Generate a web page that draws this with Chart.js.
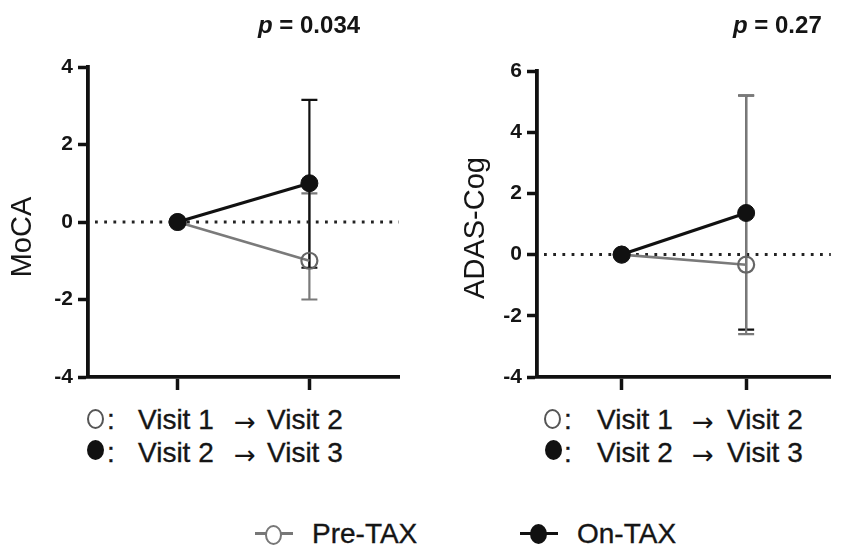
<!DOCTYPE html>
<html><head><meta charset="utf-8">
<script src="https://cdn.jsdelivr.net/npm/chart.js@4.4.1/dist/chart.umd.min.js"></script>
<style>
body{margin:0;background:#fff;width:841px;height:546px;overflow:hidden;position:relative;font-family:"Liberation Sans",Arial,sans-serif;color:#151515}
.t{position:absolute;white-space:nowrap;line-height:1}
.leg{font-size:28px;-webkit-text-stroke:0.35px #151515}
.arrow{font-size:26px;font-family:"DejaVu Sans","Liberation Sans",sans-serif}
.oc{position:absolute;width:13px;height:16px;border:2px solid #555;border-radius:50%;background:#fff}
.fc{position:absolute;width:17px;height:20px;border-radius:50%;background:#111}
.p{font-size:24px;font-weight:bold}
canvas{position:absolute}
</style></head><body>
<canvas id="moca" width="410" height="400" style="left:0;top:0"></canvas>
<canvas id="adas" width="421" height="400" style="left:420px;top:0"></canvas>

<div class="t p" style="left:258px;top:13px"><i>p</i> = 0.034</div>
<div class="t p" style="left:733px;top:13px"><i>p</i> = 0.27</div>

<!-- left legend -->
<div class="oc" style="left:87px;top:409px"></div>
<div class="t leg" style="left:107px;top:406px">:</div>
<div class="t leg" style="left:138px;top:406px">Visit 1</div>
<div class="t arrow" style="left:234px;top:409px">→</div>
<div class="t leg" style="left:267px;top:406px">Visit 2</div>
<div class="fc" style="left:87px;top:440px"></div>
<div class="t leg" style="left:107px;top:439px">:</div>
<div class="t leg" style="left:138px;top:439px">Visit 2</div>
<div class="t arrow" style="left:234px;top:442px">→</div>
<div class="t leg" style="left:267px;top:439px">Visit 3</div>
<!-- right legend -->
<div class="oc" style="left:544px;top:409px"></div>
<div class="t leg" style="left:564px;top:406px">:</div>
<div class="t leg" style="left:597px;top:406px">Visit 1</div>
<div class="t arrow" style="left:692px;top:409px">→</div>
<div class="t leg" style="left:727px;top:406px">Visit 2</div>
<div class="fc" style="left:545px;top:440px"></div>
<div class="t leg" style="left:564px;top:439px">:</div>
<div class="t leg" style="left:597px;top:439px">Visit 2</div>
<div class="t arrow" style="left:692px;top:442px">→</div>
<div class="t leg" style="left:727px;top:439px">Visit 3</div>

<!-- bottom legend -->
<div style="position:absolute;left:255px;top:532px;width:38px;height:3px;background:#777"></div>
<div class="oc" style="left:265px;top:525px;border-color:#777"></div>
<div class="t leg" style="left:312px;top:520px">Pre-TAX</div>
<div style="position:absolute;left:520px;top:532px;width:38px;height:3px;background:#111"></div>
<div class="fc" style="left:530px;top:524px"></div>
<div class="t leg" style="left:577px;top:520px">On-TAX</div>

<script>
// ---- data ----
const timepoints = [0, 1];               // start of interval, change at end of interval
const seriesNames = ['On-TAX', 'Pre-TAX'];

const mocaOn     = [0, 1.0];
const mocaOnLo   = [null, -1.18];
const mocaOnHi   = [null, 3.15];
const mocaPre    = [0, -1.0];
const mocaPreLo  = [null, -2.0];
const mocaPreHi  = [null, 0.74];

const adasOn     = [0, 1.36];
const adasOnLo   = [null, -2.45];
const adasOnHi   = [null, 5.2];
const adasPre    = [0, -0.33];
const adasPreLo  = [null, -2.6];
const adasPreHi  = [null, 5.2];

const mocaTicks = [-4, -2, 0, 2, 4];
const adasTicks = [-4, -2, 0, 2, 4, 6];
const referenceValue = 0;

const FONT = '"Liberation Sans", Arial, sans-serif';
const BLACK = '#111111', GRAY = '#7a7a7a';

function pts(vals, lo, hi){
  return timepoints.map((x, i) => ({x, y: vals[i], lo: lo[i], hi: hi[i]}));
}

const refLine = {
  id: 'refLine',
  beforeDatasetsDraw(chart){
    const {ctx, chartArea} = chart;
    const y = chart.scales.y.getPixelForValue(referenceValue);
    ctx.save();
    ctx.strokeStyle = '#222'; ctx.lineWidth = 3;
    ctx.setLineDash([2.8, 6.4]);
    ctx.beginPath(); ctx.moveTo(chartArea.left + 7, y); ctx.lineTo(chartArea.right, y); ctx.stroke();
    ctx.restore();
  }
};

const errorBars = {
  id: 'errorBars',
  beforeDatasetsDraw(chart, args, opts){
    const {ctx} = chart;
    const xs = chart.scales.x, ys = chart.scales.y;
    opts.order.forEach(i => {
      const ds = chart.data.datasets[i];
      ds.data.forEach(p => {
        if (p.lo == null) return;
        const px = xs.getPixelForValue(p.x);
        const t = ys.getPixelForValue(p.hi), b = ys.getPixelForValue(p.lo);
        ctx.save();
        ctx.strokeStyle = ds.borderColor; ctx.lineWidth = 2.2;
        ctx.beginPath();
        ctx.moveTo(px, t); ctx.lineTo(px, b);
        ctx.moveTo(px - 8, t); ctx.lineTo(px + 8, t);
        ctx.moveTo(px - 8, b); ctx.lineTo(px + 8, b);
        ctx.stroke();
        ctx.restore();
      });
    });
  }
};

const yTitle = {
  id: 'yTitle',
  afterDraw(chart, args, opts){
    const {ctx} = chart;
    ctx.save();
    ctx.translate(opts.x, opts.y);
    ctx.rotate(-Math.PI / 2);
    ctx.font = '29px ' + FONT;
    ctx.fillStyle = '#151515';
    ctx.textAlign = 'center'; ctx.textBaseline = 'middle';
    ctx.fillText(opts.text, 0, 0);
    ctx.restore();
  }
};

function makeChart(id, on, pre, ticks, opt){
  return new Chart(document.getElementById(id), {
    type: 'line',
    data: {
      datasets: [
        { label: seriesNames[0], data: on, borderColor: BLACK, backgroundColor: BLACK,
          borderWidth: 3.2, pointRadius: 8.5, pointBackgroundColor: BLACK, pointBorderColor: BLACK,
          pointBorderWidth: 1, tension: 0, order: 0 },
        { label: seriesNames[1], data: pre, borderColor: GRAY, backgroundColor: 'rgba(255,255,255,0)',
          borderWidth: 2.6, pointRadius: 8, pointBackgroundColor: 'rgba(255,255,255,0)', pointBorderColor: '#666',
          pointBorderWidth: 2.2, tension: 0, order: 1 }
      ]
    },
    options: {
      responsive: false, animation: false,
      layout: { padding: opt.padding },
      plugins: {
        legend: { display: false }, tooltip: { enabled: false },
        errorBars: { order: opt.errOrder },
        yTitle: opt.title
      },
      scales: {
        x: {
          type: 'linear', min: -0.68, max: 1.68,
          afterBuildTicks: s => { s.ticks = timepoints.map(v => ({value: v})); },
          afterFit: s => { s.height = 23; },
          ticks: { display: false },
          grid: { drawOnChartArea: false, drawTicks: true, tickLength: 13, tickWidth: 3.5, tickColor: BLACK },
          border: { display: true, width: 3.8, color: BLACK }
        },
        y: {
          min: ticks[0], max: ticks[ticks.length - 1],
          afterBuildTicks: s => { s.ticks = ticks.map(v => ({value: v})); },
          afterFit: s => { s.width = opt.yWidth; },
          ticks: { font: { family: FONT, size: 21, weight: 'bold' }, color: '#151515', padding: 5 },
          grid: { drawOnChartArea: false, drawTicks: true, tickLength: 10, tickWidth: 3.5, tickColor: BLACK },
          border: { display: true, width: 3.8, color: BLACK }
        }
      }
    },
    plugins: [refLine, errorBars, yTitle]
  });
}

makeChart('moca', pts(mocaOn, mocaOnLo, mocaOnHi), pts(mocaPre, mocaPreLo, mocaPreHi), mocaTicks, {
  padding: { top: 67, right: 11, left: 0, bottom: 0 }, yWidth: 88, errOrder: [1, 0],
  title: { text: 'MoCA', x: 23, y: 237 }
});
makeChart('adas', pts(adasOn, adasOnLo, adasOnHi), pts(adasPre, adasPreLo, adasPreHi), adasTicks, {
  padding: { top: 71, right: 0, left: 0, bottom: 0 }, yWidth: 117, errOrder: [0, 1],
  title: { text: 'ADAS-Cog', x: 56, y: 228 }
});
</script>
</body></html>
